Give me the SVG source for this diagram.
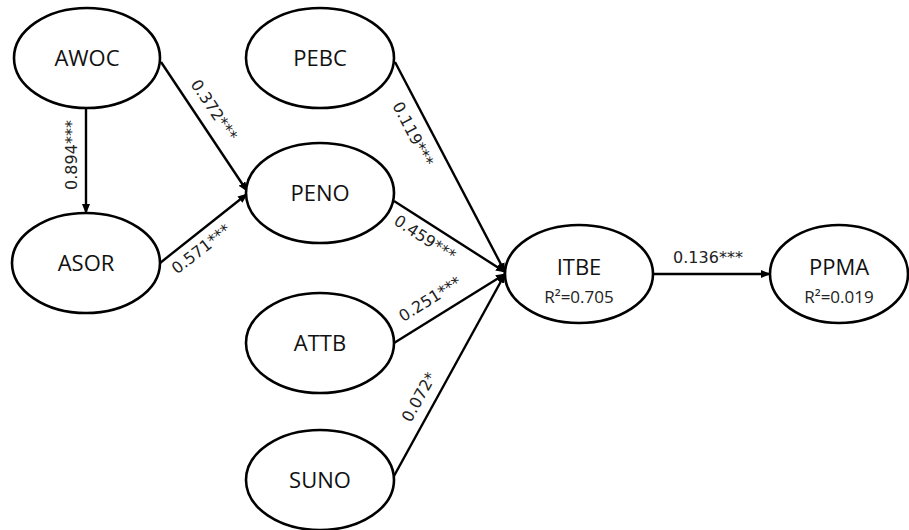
<svg xmlns="http://www.w3.org/2000/svg" width="909" height="530" viewBox="0 0 909 530">
<style>
.n{fill:#fff;stroke:#000;stroke-width:2.6}
.t{font-family:"Open Sans","Liberation Sans",sans-serif;font-size:22px;fill:#111;text-anchor:middle}
.r{font-family:"Open Sans","Liberation Sans",sans-serif;font-size:17px;fill:#222;text-anchor:middle}
.e{stroke:#000;stroke-width:2.4;fill:none;marker-end:url(#ah)}
.l{font-family:"DejaVu Sans","Open Sans",sans-serif;font-size:16px;fill:#222;text-anchor:middle;dominant-baseline:central}
</style>
<defs>
<marker id="ah" markerWidth="10" markerHeight="8" refX="9" refY="4" orient="auto" markerUnits="userSpaceOnUse">
<path d="M0,0 L10,4 L0,8 z" fill="#000"/>
</marker>
</defs>
<g id="connectors">
<line class="e" x1="86" y1="108" x2="86" y2="213"/>
<line class="e" x1="161" y1="62" x2="247" y2="191"/>
<line class="e" x1="160" y1="263" x2="247" y2="194"/>
<line class="e" x1="395" y1="62" x2="505" y2="272"/>
<line class="e" x1="394" y1="201" x2="505" y2="272"/>
<line class="e" x1="394" y1="343" x2="505" y2="274"/>
<line class="e" x1="394" y1="476" x2="505" y2="274"/>
<line class="e" x1="653" y1="274" x2="770" y2="274"/>
<text class="l" transform="translate(71,155) rotate(-90)">0.894***</text>
<text class="l" transform="translate(214,110) rotate(56)">0.372***</text>
<text class="l" transform="translate(201,249) rotate(-38)">0.571***</text>
<text class="l" transform="translate(413,134) rotate(62.5)">0.119***</text>
<text class="l" transform="translate(425,238) rotate(33)">0.459***</text>
<text class="l" transform="translate(430,299) rotate(-32)">0.251***</text>
<text class="l" transform="translate(419,397) rotate(-61)">0.072*</text>
<text class="l" transform="translate(708,257)">0.136***</text>
</g>
<g id="AWOC"><ellipse class="n" cx="87" cy="58" rx="73" ry="50"/><text class="t" x="87" y="66">AWOC</text></g>
<g id="ASOR"><ellipse class="n" cx="86" cy="263" rx="74" ry="50"/><text class="t" x="86" y="271">ASOR</text></g>
<g id="PEBC"><ellipse class="n" cx="320" cy="58" rx="74" ry="50"/><text class="t" x="320" y="66">PEBC</text></g>
<g id="PENO"><ellipse class="n" cx="320" cy="193" rx="74" ry="50"/><text class="t" x="320" y="201">PENO</text></g>
<g id="ATTB"><ellipse class="n" cx="320" cy="343" rx="74" ry="50"/><text class="t" x="320" y="351">ATTB</text></g>
<g id="SUNO"><ellipse class="n" cx="320" cy="480" rx="74" ry="50"/><text class="t" x="320" y="488">SUNO</text></g>
<g id="ITBE"><ellipse class="n" cx="579" cy="274" rx="74" ry="49"/><text class="t" x="579" y="275">ITBE</text><text class="r" x="579" y="303">R²=0.705</text></g>
<g id="PPMA"><ellipse class="n" cx="839" cy="274" rx="69" ry="49"/><text class="t" x="839" y="275">PPMA</text><text class="r" x="839" y="303">R²=0.019</text></g>
</svg>
